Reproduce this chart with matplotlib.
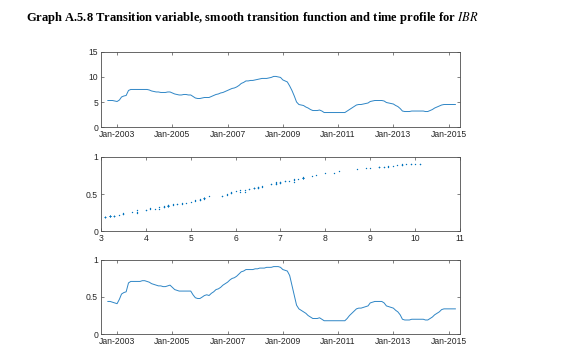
import datetime as dt
import matplotlib
matplotlib.use("Agg")
import matplotlib.pyplot as plt
import matplotlib.dates as mdates

# monthly sample, Sep-2002 .. Apr-2015
start_year, start_month, n_months = 2002, 9, 152

# transition variable (IBR)
ibr = [5.3, 5.3, 5.3, 5.2, 5.1, 5.4, 6.0, 6.2, 6.3, 7.3, 7.5, 7.5, 7.5, 7.5, 7.5, 7.5,
       7.5, 7.5, 7.4, 7.2, 7.1, 7.0, 7.0, 6.9, 6.9, 6.9, 7.0, 7.0,
       6.8, 6.6, 6.5, 6.4, 6.4, 6.5, 6.5, 6.4, 6.4, 6.1, 5.8, 5.7,
       5.7, 5.8, 5.9, 5.9, 5.9, 6.1, 6.3, 6.5, 6.6, 6.8, 6.9, 7.1,
       7.3, 7.5, 7.7, 7.8, 8.0, 8.3, 8.7, 8.9, 9.2, 9.2, 9.3, 9.3,
       9.4, 9.5, 9.6, 9.7, 9.7, 9.7, 9.8, 9.9, 10.1, 10.1, 10.0, 9.9,
       9.4, 9.2, 9.0, 8.2, 7.3, 6.2, 5.0, 4.5, 4.4, 4.3, 4.0, 3.8,
       3.5, 3.3, 3.3, 3.3, 3.4, 3.2, 2.9, 2.9, 2.9, 2.9, 2.9, 2.9,
       2.9, 2.9, 2.9, 2.9, 3.2, 3.5, 3.8, 4.1, 4.4, 4.5, 4.5, 4.6,
       4.7, 4.8, 5.1, 5.2, 5.3, 5.3, 5.3, 5.3, 5.2, 4.9, 4.8, 4.7,
       4.6, 4.3, 4.1, 3.7, 3.2, 3.1, 3.1, 3.1, 3.2, 3.2, 3.2, 3.2,
       3.2, 3.2, 3.1, 3.1, 3.3, 3.5, 3.8, 4.0, 4.2, 4.4, 4.5, 4.5,
       4.5, 4.5, 4.5, 4.5]

# smooth transition function G
g = [0.44, 0.44, 0.43, 0.42, 0.41, 0.47, 0.54, 0.56, 0.57, 0.69, 0.71, 0.71, 0.71, 0.71, 0.71, 0.72,
     0.72, 0.71, 0.70, 0.68, 0.67, 0.66, 0.65, 0.65, 0.64, 0.64, 0.65, 0.66,
     0.63, 0.60, 0.59, 0.58, 0.58, 0.58, 0.58, 0.58, 0.58, 0.53, 0.49, 0.48,
     0.48, 0.50, 0.52, 0.53, 0.52, 0.55, 0.57, 0.60, 0.61, 0.63, 0.66, 0.68,
     0.70, 0.73, 0.75, 0.76, 0.78, 0.81, 0.84, 0.85, 0.87, 0.87, 0.87, 0.87,
     0.88, 0.88, 0.89, 0.89, 0.89, 0.90, 0.90, 0.90, 0.91, 0.91, 0.91, 0.90,
     0.87, 0.86, 0.85, 0.79, 0.66, 0.53, 0.39, 0.34, 0.32, 0.30, 0.28, 0.25,
     0.23, 0.21, 0.21, 0.21, 0.22, 0.20, 0.18, 0.18, 0.18, 0.18, 0.18, 0.18,
     0.18, 0.18, 0.18, 0.18, 0.21, 0.25, 0.28, 0.31, 0.34, 0.35, 0.35, 0.36,
     0.37, 0.38, 0.42, 0.43, 0.44, 0.44, 0.44, 0.44, 0.42, 0.38, 0.37, 0.36,
     0.35, 0.32, 0.30, 0.26, 0.20, 0.19, 0.19, 0.19, 0.20, 0.20, 0.20, 0.20,
     0.20, 0.20, 0.19, 0.19, 0.21, 0.23, 0.26, 0.28, 0.30, 0.33, 0.34, 0.34,
     0.34, 0.34, 0.34, 0.34]

ibr_yticks = [0, 5, 10, 15]
g_yticks = [0, 0.5, 1]
g_yticklabels = ['0', '0.5', '1']
scatter_xticks = [3, 4, 5, 6, 7, 8, 9, 10, 11]
year_ticks = [2003, 2005, 2007, 2009, 2011, 2013, 2015]

dates = []
for i in range(n_months):
    y = start_year + (start_month - 1 + i) // 12
    m = (start_month - 1 + i) % 12 + 1
    dates.append(dt.datetime(y, m, 1))

blue = '#2f86c6'
axcol = '#4d4d4d'
txtcol = '#262626'

plt.rcParams['font.family'] = ['Liberation Sans', 'DejaVu Sans']
plt.rcParams['mathtext.fontset'] = 'stix'

fig = plt.figure(figsize=(5.7, 3.6), dpi=100)
fig.patch.set_facecolor('white')

fig.text(0.046, 0.943,
         r'Graph A.5.8 Transition variable, smooth transition function and time profile for $\mathit{IBR}$',
         family='Liberation Serif', weight='bold', fontsize=9, color='black', va='baseline')


def style(ax):
    for s in ax.spines.values():
        s.set_color(axcol)
        s.set_linewidth(0.6)
    ax.tick_params(direction='in', length=2.2, width=0.5, color=axcol,
                   labelsize=6.2, labelcolor=txtcol, top=True, right=True, pad=2)


left, width = 0.177, 0.630
ax1 = fig.add_axes([left, 0.647, width, 0.209])
ax2 = fig.add_axes([left, 0.358, width, 0.206])
ax3 = fig.add_axes([left, 0.072, width, 0.206])

xlo, xhi = dt.datetime(2002, 6, 1), dt.datetime(2015, 6, 1)
tick_dates = [dt.datetime(y, 1, 1) for y in year_ticks]

ax1.plot(dates, ibr, color=blue, lw=0.7)
ax1.set_xlim(xlo, xhi)
ax1.set_ylim(0, 15)
ax1.set_yticks(ibr_yticks)
ax1.set_xticks(tick_dates)
ax1.xaxis.set_major_formatter(mdates.DateFormatter('%b-%Y'))
style(ax1)

ax2.plot(ibr, g, '.', color='#0072BD', ms=2.0, mew=0)
ax2.set_xlim(3, 11)
ax2.set_ylim(0, 1)
ax2.set_xticks(scatter_xticks)
ax2.set_yticks(g_yticks)
ax2.set_yticklabels(g_yticklabels)
style(ax2)

ax3.plot(dates, g, color=blue, lw=0.7)
ax3.set_xlim(xlo, xhi)
ax3.set_ylim(0, 1)
ax3.set_yticks(g_yticks)
ax3.set_yticklabels(g_yticklabels)
ax3.set_xticks(tick_dates)
ax3.xaxis.set_major_formatter(mdates.DateFormatter('%b-%Y'))
style(ax3)

fig.savefig('out.png', dpi=100)
